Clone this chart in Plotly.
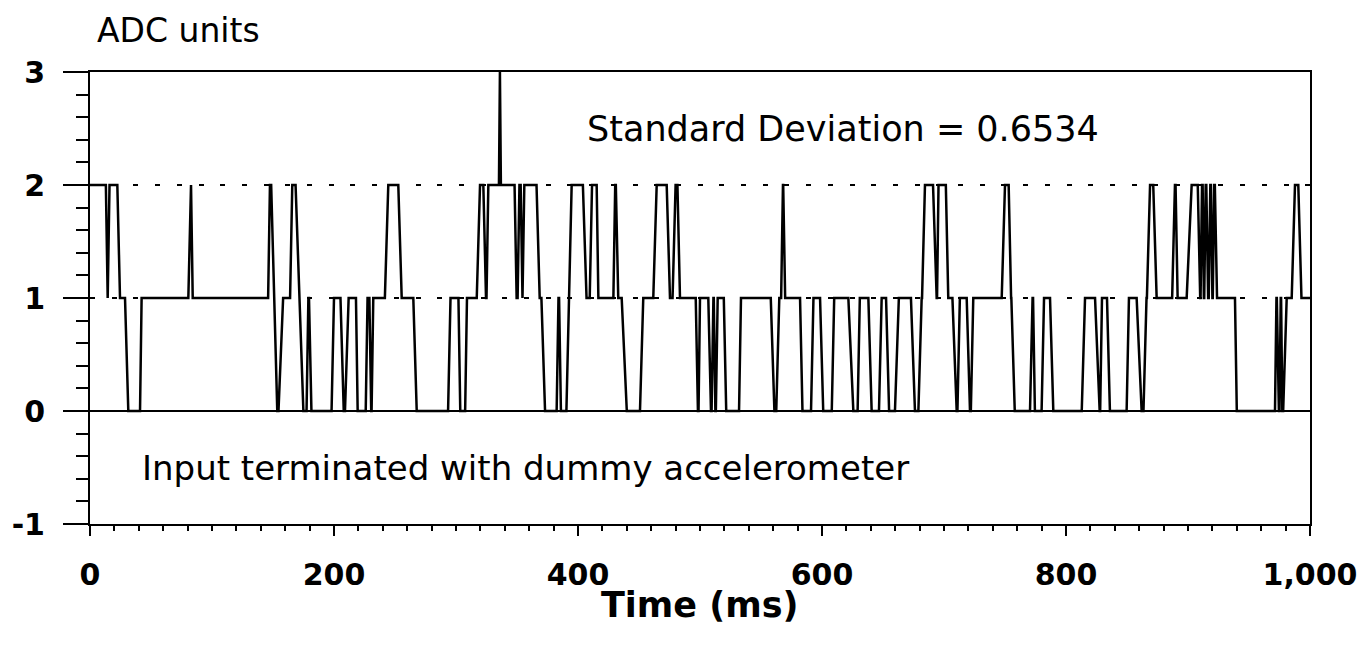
import plotly.graph_objects as go

# Plateaus of the ADC trace: (start ms, end ms, level)
seg_start = [0, 14.5, 16, 24.6, 31.4, 42.3, 82.2, 84.2, 147.5, 153.5, 158.3, 165.8, 174.9, 179, 181.5,
             200, 208, 212, 219.4, 227.5, 230.5, 232.2, 244.5, 255.5, 267.8, 295.5, 303.5, 309, 319.7,
             324.6, 326.5, 336, 336.8, 349.7, 352, 354, 356, 368.6, 373, 384, 386, 394.8, 407, 411.5,
             416.7, 430.5, 433, 440, 453.5, 464.5, 475.4, 480, 483.6, 498.3, 500, 509, 511, 512.6, 514.5,
             521.5, 533.6, 561, 565, 568, 569.8, 584, 593, 601, 610, 625.7, 631, 640.7, 648.9, 655, 663,
             676.2, 681.7, 684.4, 694, 695.5, 703.5, 710.4, 713, 721.3, 724, 750, 755, 758, 772.6, 774.5,
             782, 789.6, 815.6, 827.6, 829.5, 836, 851.6, 862, 866, 868.9, 874.3, 889.3, 891.5, 903, 910,
             911.5, 913, 914.5, 916.5, 918.3, 920, 921.5, 923.8, 940, 972.5, 974.5, 976, 977.3, 980.9,
             987.7, 993]
seg_end = [13, 14.5, 22.4, 28.7, 41, 80.6, 82.8, 146, 148.5, 154.5, 164, 168.5, 177.5, 179.5, 198,
           205.3, 209, 218, 226, 229, 230.8, 241.7, 252.7, 265, 293.5, 302, 307.5, 317, 322.4,
           325, 335.2, 336, 348, 350.5, 353, 354.5, 366, 370, 382.5, 384.5, 390.5, 404, 409.6, 415.3,
           429, 431, 435.8, 450.8, 461.7, 472.7, 477.5, 481.5, 496.5, 498.8, 506.8, 509.5, 511.3, 513, 519.5,
           532, 558, 562.5, 566.5, 568.2, 582, 591, 598.4, 608, 621.6, 629.2, 638, 646.7, 652.5, 659.8, 672.9,
           679, 682, 691, 694.3, 701.5, 706.9, 711, 718.6, 722, 747.3, 753, 755.2, 770.5, 773, 780,
           786.9, 812.9, 823.8, 828, 833.6, 849.7, 857.9, 863.5, 866.3, 871.5, 887, 889.8, 898.9, 908, 910.3,
           912, 913.3, 915, 917, 918.8, 920.3, 922, 938.5, 971.3, 972.8, 975, 976.3, 978, 985,
           990.4, 1000]
seg_level = [2, 1, 2, 1, 0, 1, 2, 1, 2, 0, 1, 2, 0, 1, 0,
             1, 0, 1, 0, 1, 0, 1, 2, 1, 0, 1, 0, 1, 2,
             1, 2, 3, 2, 1, 2, 1, 2, 1, 0, 1, 0, 2, 1, 2,
             1, 2, 1, 0, 1, 2, 1, 2, 1, 0, 1, 0, 1, 0, 1,
             0, 1, 0, 1, 2, 1, 0, 1, 0, 1, 0, 1, 0, 1, 0, 1,
             0, 1, 2, 1, 2, 1, 0, 1, 0, 1, 2, 1, 0, 1, 0,
             1, 0, 1, 0, 1, 0, 1, 0, 1, 2, 1, 2, 1, 2, 1,
             2, 1, 2, 1, 2, 1, 2, 1, 0, 1, 0, 1, 0, 1,
             2, 1]

x_ticks = [0, 200, 400, 600, 800, 1000]
x_labels = ["0", "200", "400", "600", "800", "1,000"]
y_ticks = [-1, 0, 1, 2, 3]
y_labels = ["-1", "0", "1", "2", "3"]

t_vals, adc_vals = [], []
for s, e, lv in zip(seg_start, seg_end, seg_level):
    t_vals.append(s)
    adc_vals.append(lv)
    if e > s:
        t_vals.append(e)
        adc_vals.append(lv)

FONT = "DejaVu Sans"

fig = go.Figure()
fig.add_trace(go.Scatter(x=t_vals, y=adc_vals, mode="lines",
                         line=dict(color="black", width=2.5), hoverinfo="skip", showlegend=False))

# page body has an 8px margin, so the figure is sized and offset to keep the plot box at 90..1310 x 72..524
fig.update_layout(
    width=1352, height=637,
    margin=dict(l=82, r=50, t=64, b=121),
    paper_bgcolor="white", plot_bgcolor="white",
    font=dict(family=FONT, color="black"),
    showlegend=False,
)

fig.update_xaxes(
    range=[0, 1000], tickvals=x_ticks, ticktext=x_labels, automargin=False,
    showline=True, linecolor="black", linewidth=2, mirror=True,
    ticks="outside", ticklen=10, tickwidth=2, tickcolor="black",
    minor=dict(dtick=20, ticks="outside", ticklen=5, tickwidth=1.5, tickcolor="black", showgrid=False),
    showgrid=False, zeroline=False,
    tickfont=dict(family=FONT, size=30, color="black", weight="bold"),
    ticklabelstandoff=13,
)
fig.update_yaxes(
    range=[-1, 3], tickvals=y_ticks, ticktext=y_labels, automargin=False,
    showline=True, linecolor="black", linewidth=2, mirror=True,
    ticks="outside", ticklen=25, tickwidth=2, tickcolor="black",
    minor=dict(dtick=0.2, ticks="outside", ticklen=12, tickwidth=1.5, tickcolor="black", showgrid=False),
    showgrid=True, gridcolor="black", gridwidth=2, griddash="5px,16.7px",
    zeroline=True, zerolinecolor="black", zerolinewidth=2,
    tickfont=dict(family=FONT, size=30, color="black", weight="bold"),
    ticklabelstandoff=12,
)

fig.add_annotation(text="ADC units", xref="paper", yref="paper", x=0.004, y=1.0, yshift=42,
                   xanchor="left", yanchor="middle", showarrow=False,
                   font=dict(family=FONT, size=33, color="black"))
fig.add_annotation(text="Time (ms)", xref="paper", yref="paper", x=0.5, y=0, yshift=-81,
                   xanchor="center", yanchor="middle", showarrow=False,
                   font=dict(family=FONT, size=35, color="black", weight="bold"))
fig.add_annotation(text="Standard Deviation = 0.6534", xref="x", yref="y", x=406, y=2.5,
                   xanchor="left", yanchor="middle", showarrow=False,
                   font=dict(family=FONT, size=35, color="black"))
fig.add_annotation(text="Input terminated with dummy accelerometer", xref="x", yref="y", x=41, y=-0.5,
                   xanchor="left", yanchor="middle", showarrow=False,
                   font=dict(family=FONT, size=34, color="black"))

fig.write_html("out.html")
